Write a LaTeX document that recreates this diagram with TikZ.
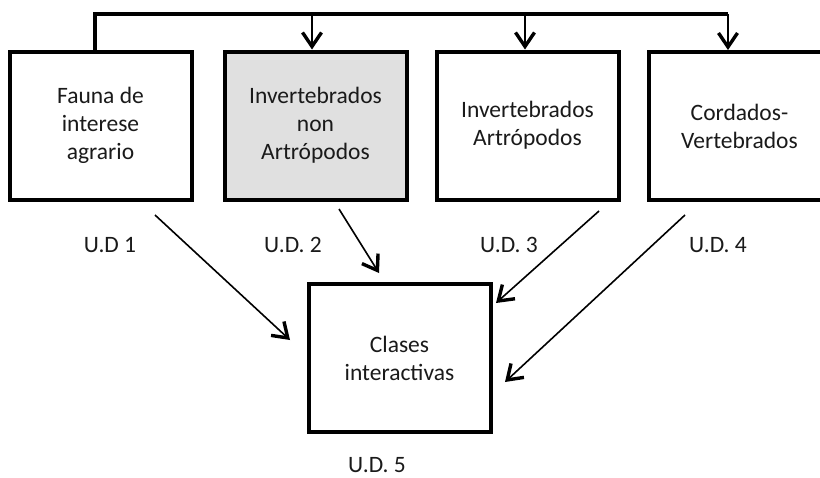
\documentclass[tikz,border=0pt]{standalone}
\usepackage{fontspec}
\setmainfont{Carlito}
\usetikzlibrary{arrows.meta}
\definecolor{boxgray}{HTML}{E0E0E0}
\definecolor{txt}{HTML}{1A1A1A}
\tikzset{
  ubox/.style={draw=black, line width=4pt, minimum width=182pt, minimum height=148pt,
    inner sep=0pt, align=center, font=\fontsize{23.5}{28}\selectfont, text=txt},
  udlabel/.style={font=\fontsize{23.5}{28}\selectfont, text=txt, inner sep=0pt},
  arr/.style={line width=1.6pt, -{Straight Barb[length=14pt,width=19pt,line width=3.4pt]}},
  trunk/.style={line width=4pt, line join=miter}
}
\begin{document}
\begin{tikzpicture}[x=1pt,y=-1pt]
\useasboundingbox (0,0) rectangle (820,477);
\clip (0,0) rectangle (820,477);
\fill[white] (0,0) rectangle (820,477);

\node[ubox] (b1) at (100.5,125.5) {Fauna de\\interese\\agrario};
\node[ubox, fill=boxgray] (b2) at (315.5,125.5) {Invertebrados\\non\\Artrópodos};
\node[ubox] (b3) at (527.5,125.5) {Invertebrados\\Artrópodos};
\node[ubox] (b4) at (739.5,126) {Cordados-\\Vertebrados};
\node[ubox] (b5) at (399.5,358) {Clases\\interactivas};

\node[udlabel] (l1) at (110,245) {U.D 1};
\node[udlabel] (l2) at (293,245) {U.D. 2};
\node[udlabel] (l3) at (509,245) {U.D. 3};
\node[udlabel] (l4) at (718,245) {U.D. 4};
\node[udlabel] (l5) at (377,465) {U.D. 5};

\coordinate (j1) at (95,14);
\coordinate (j2) at (312,14);
\coordinate (j3) at (525,14);
\coordinate (j4) at (728,14);

\draw[trunk] (j1 |- b1.north) -- (j1) -- (j4);
\draw[arr] (j2) -- (j2 |- b2.north);
\draw[arr] (j3) -- (j3 |- b3.north);
\draw[arr] (j4) -- (j4 |- b4.north);

\coordinate (s1) at (155,215);
\coordinate (e1) at (290,340);
\coordinate (s2) at (339,209);
\coordinate (e2) at (379,273);
\coordinate (s3) at (599,211);
\coordinate (e3) at (496,303);
\coordinate (s4) at (685,215);
\coordinate (e4) at (505,382);

\draw[arr] (s1) -- (e1);
\draw[arr] (s2) -- (e2);
\draw[arr] (s3) -- (e3);
\draw[arr] (s4) -- (e4);
\end{tikzpicture}
\end{document}
